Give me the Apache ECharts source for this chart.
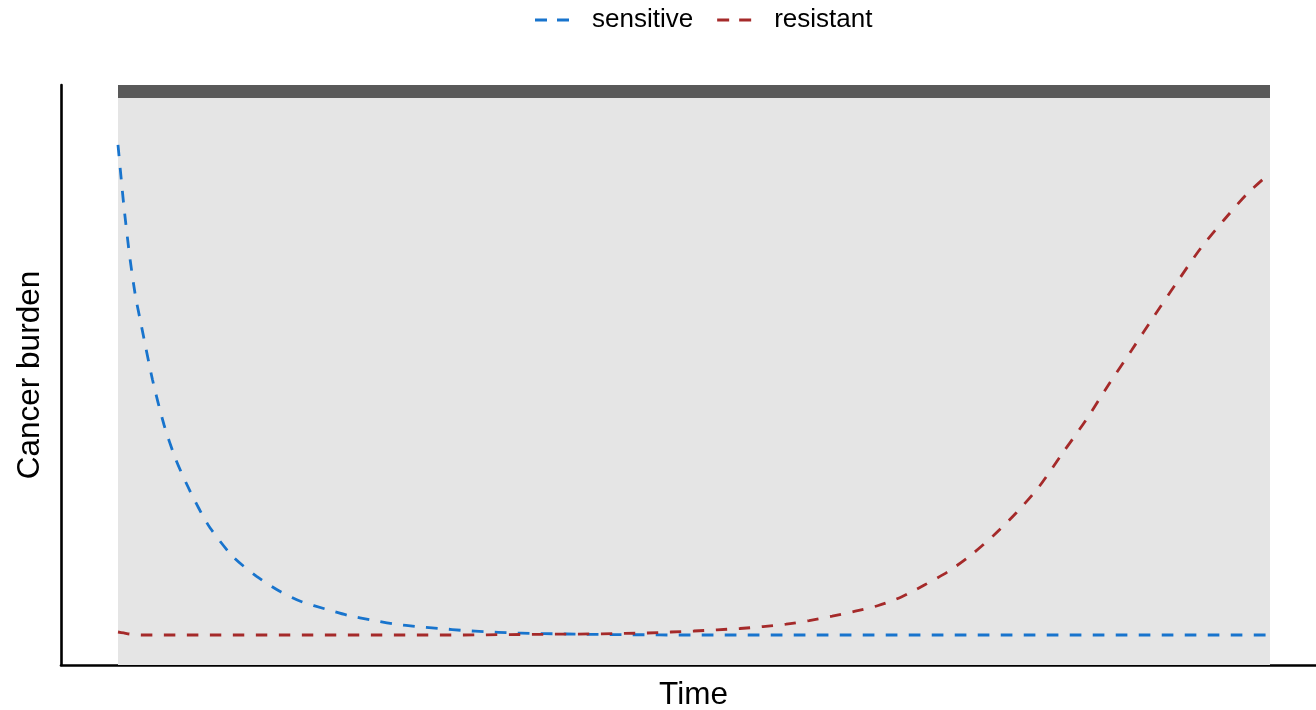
<!DOCTYPE html>
<html>
<head>
<meta charset="utf-8">
<title>Cancer burden over time</title>
<script src="https://cdn.jsdelivr.net/npm/echarts@6/dist/echarts.min.js"></script>
<style>
  html, body { margin: 0; padding: 0; background: #ffffff; }
  #chart { width: 1316px; height: 710px; }
</style>
</head>
<body>
<div id="chart"></div>
<script>
// Time points (treatment runs from 0 to 100)
const time = [0, 0.5, 1, 1.5, 2, 3, 4, 5, 6, 7, 8,
  10, 12, 14, 16, 18, 20, 22, 24, 26, 28, 30, 32, 34, 36, 38, 40,
  42, 44, 46, 48, 50, 52, 54, 56, 58, 60, 62, 64, 66, 68, 70,
  72, 74, 76, 78, 80, 82, 84, 86, 88, 90, 92, 94, 96, 98, 100];

// Drug-sensitive cell population
const sensitive = [89.66, 79.31, 70.69, 63.79, 58.79, 49.14, 41.38, 35.52, 31.03, 27.07, 23.62,
  18.62, 15.34, 12.76, 10.86, 9.66, 8.53, 7.76, 7.07, 6.60, 6.29, 5.95, 5.72, 5.55, 5.45, 5.38, 5.31,
  5.26, 5.22, 5.21, 5.17, 5.17, 5.17, 5.17, 5.17, 5.17, 5.17, 5.17, 5.17, 5.17, 5.17, 5.17,
  5.17, 5.17, 5.17, 5.17, 5.17, 5.17, 5.17, 5.17, 5.17, 5.17, 5.17, 5.17, 5.17, 5.17, 5.17];

// Drug-resistant cell population
const resistant = [5.69, 5.52, 5.34, 5.26, 5.17, 5.17, 5.17, 5.17, 5.17, 5.17, 5.17,
  5.17, 5.17, 5.17, 5.17, 5.17, 5.17, 5.17, 5.17, 5.17, 5.17, 5.17, 5.21, 5.24, 5.28, 5.31, 5.34,
  5.38, 5.45, 5.52, 5.69, 5.86, 6.07, 6.29, 6.62, 7.03, 7.66, 8.41, 9.28, 10.26, 11.72, 13.79,
  16.03, 18.88, 22.33, 26.29, 30.86, 36.55, 42.16, 48.36, 54.31, 60.34, 66.21, 71.90, 76.72, 81.21, 84.83];

const seriesNames = ['sensitive', 'resistant'];
const treatment = [0, 100];

const FONT = '"Liberation Sans", Arial, Helvetica, sans-serif';
// legend key: two short dashes
const DASH_ICON = 'path://M0,0H12V3H0Z M22,0H34V3H22Z';

const chart = echarts.init(document.getElementById('chart'), null, { renderer: 'canvas' });

const pairs = (ys) => time.map((t, i) => [t, ys[i]]);

const lineSeries = (name, ys, color) => ({
  name: name,
  type: 'line',
  data: pairs(ys),
  showSymbol: false,
  symbol: 'none',
  smooth: 0.25,
  z: 3,
  lineStyle: { color: color, width: 2.8, type: [11.5, 11.5], cap: 'butt' },
  itemStyle: { color: color },
  emphasis: { disabled: true }
});

chart.setOption({
  animation: false,
  backgroundColor: '#ffffff',
  textStyle: { fontFamily: FONT },
  legend: {
    top: 2,
    left: 530,
    icon: DASH_ICON,
    data: seriesNames,
    itemWidth: 34,
    itemHeight: 3,
    itemGap: 24,
    textStyle: { fontFamily: FONT, fontSize: 26, color: '#000000', padding: [0, 0, 0, 18] }
  },
  grid: { left: 61, right: 0, top: 85, bottom: 45, containLabel: false, outerBoundsMode: 'none' },
  xAxis: {
    type: 'value',
    min: -4.948,
    max: 103.993,
    name: 'Time',
    nameLocation: 'middle',
    nameGap: 14,
    nameTextStyle: { fontFamily: FONT, fontSize: 31.5, color: '#000000', verticalAlign: 'top', padding: [0, 0, 0, 10] },
    axisLine: { show: true, onZero: false, lineStyle: { color: '#000000', width: 2.6 } },
    axisTick: { show: false },
    axisLabel: { show: false },
    splitLine: { show: false }
  },
  yAxis: {
    type: 'value',
    min: 0,
    max: 100,
    name: 'Cancer burden',
    nameLocation: 'middle',
    nameGap: 15,
    nameRotate: 90,
    nameTextStyle: { fontFamily: FONT, fontSize: 31.5, color: '#000000' },
    axisLine: { show: true, onZero: false, lineStyle: { color: '#000000', width: 2.6 } },
    axisTick: { show: false },
    axisLabel: { show: false },
    splitLine: { show: false }
  },
  series: [
    {
      // treatment window shading and header strip
      type: 'line',
      data: [],
      silent: true,
      z: 1,
      markArea: {
        silent: true,
        data: [
          [{ xAxis: treatment[0], yAxis: 0, itemStyle: { color: '#e5e5e5' } }, { xAxis: treatment[1], yAxis: 100 }],
          [{ xAxis: treatment[0], yAxis: 97.76, itemStyle: { color: '#595959' } }, { xAxis: treatment[1], yAxis: 100 }]
        ]
      }
    },
    lineSeries(seriesNames[0], sensitive, '#1874cd'),
    lineSeries(seriesNames[1], resistant, '#a52a2a')
  ]
});
</script>
</body>
</html>
